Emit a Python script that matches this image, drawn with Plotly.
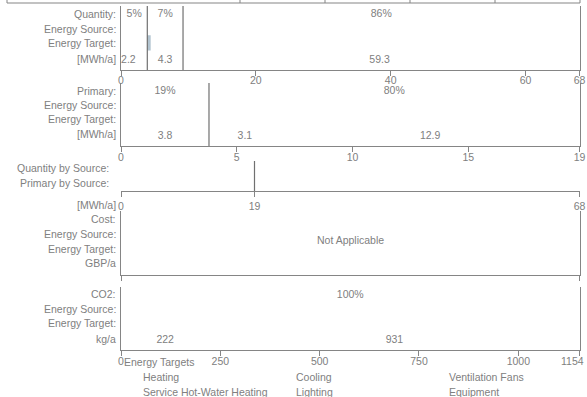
import math
import plotly.graph_objects as go

W, H = 587, 397

# ---- energy figures -------------------------------------------------------
# delivered quantity [MWh/a]
qty_source = [3.9, 5.3, 58.8]
qty_target = [2.2, 2.2, 4.3, 59.3]
qty_target_shown = [True, False, True, True]
# primary energy [MWh/a]
prim_source = [3.8, 16.0]
prim_target = [3.8, 3.1, 12.9]
# CO2 [kg/a]
co2_source = [1154.0]
co2_target = [222.4, 931.6]

qty_ticks = [0, 20, 40, 60]
prim_ticks = [0, 5, 10, 15]
co2_ticks = [0, 250, 500, 750, 1000]

target_categories = ["Heating", "Service Hot-Water Heating", "Cooling",
                     "Lighting", "Ventilation Fans", "Equipment"]

panel_labels = [
    ["Quantity:", "Energy Source:", "Energy Target:", "[MWh/a]"],
    ["Primary:", "Energy Source:", "Energy Target:", "[MWh/a]"],
    ["Quantity by Source:", "Primary by Source:"],
    ["Cost:", "Energy Source:", "Energy Target:", "GBP/a"],
    ["CO2:", "Energy Source:", "Energy Target:", "kg/a"],
]

# ---- styling ---------------------------------------------------------------
TEXT = "#808080"
LINE = "#858585"
DIV = "#707070"
SLIVER = "#b2c4d0"
FONT = "Arial, Liberation Sans, sans-serif"
FS = 10.5


def fl(v, nd=0):
    f = 10 ** nd
    v = math.floor(v * f + 1e-6) / f
    return f"{v:.{nd}f}"


def cum(vals):
    out, s = [], 0.0
    for v in vals:
        s += v
        out.append(s)
    return out


def centers(vals):
    e = [0.0] + cum(vals)
    return [(e[i] + e[i + 1]) / 2 for i in range(len(vals))]


def py(p):
    return 1 - p / H


X_DOM = [121 / W, 579.5 / W]
# vertical pixel extents (top, bottom) of the five strips
bands = [(6, 70), (83, 146), (161, 191), (211, 275), (287, 350)]
label_standoff = [-5, -4, 0, 0, -4]

fig = go.Figure()


def ax(k):
    return ("x" if k == 1 else f"x{k}"), ("y" if k == 1 else f"y{k}")


def add_dividers(k, edges, y0=0, y1=4):
    xa, ya = ax(k)
    xs, ys = [], []
    for e in edges:
        xs += [e, e, None]
        ys += [y0, y1, None]
    fig.add_trace(go.Scatter(x=xs, y=ys, mode="lines", xaxis=xa, yaxis=ya,
                             line=dict(color=DIV, width=1.2),
                             hoverinfo="skip", showlegend=False))


def add_text(k, xs, y, texts):
    xa, ya = ax(k)
    fig.add_trace(go.Scatter(x=xs, y=[y] * len(xs), text=texts, mode="text",
                             xaxis=xa, yaxis=ya, cliponaxis=False,
                             textposition="middle center",
                             textfont=dict(family=FONT, size=FS, color=TEXT),
                             hoverinfo="skip", showlegend=False))


PCT_Y, VAL_Y = 3.45, 0.6

# Quantity strip
qty_total = sum(qty_target)
add_dividers(1, cum(qty_source)[:-1])
add_text(1, centers(qty_source), PCT_Y,
         [fl(100 * v / qty_total) + "%" for v in qty_source])
qc = centers(qty_target)
add_text(1, [c for c, s in zip(qc, qty_target_shown) if s], VAL_Y,
         [fl(v, 1) for v, s in zip(qty_target, qty_target_shown) if s])
# visible part of the second target segment beside the first source segment
sl_base = cum(qty_source)[0]
sl_end = cum(qty_target)[1]
fig.add_trace(go.Bar(orientation="h", base=[sl_base], x=[sl_end - sl_base],
                     y=[1.7], width=0.95, marker=dict(color=SLIVER, line=dict(width=0)),
                     xaxis="x", yaxis="y", hoverinfo="skip", showlegend=False))

# Primary strip
prim_total = sum(prim_target)
add_dividers(2, cum(prim_source)[:-1])
add_text(2, centers(prim_source), PCT_Y,
         [fl(100 * v / prim_total) + "%" for v in prim_source])
add_text(2, centers(prim_target), VAL_Y, [fl(v, 1) for v in prim_target])

# Quantity vs primary on a common scale
add_dividers(3, [prim_total], 0, 1)

# Cost strip has no data; keep its axes alive with an empty trace
fig.add_trace(go.Scatter(x=[], y=[], xaxis="x4", yaxis="y4", showlegend=False))

# CO2 strip
co2_total = sum(co2_target)
add_text(5, centers(co2_source), PCT_Y,
         [fl(100 * v / co2_total) + "%" for v in co2_source])
add_text(5, centers(co2_target), VAL_Y, [fl(v) for v in co2_target])

# ---- axes ------------------------------------------------------------------
xcfg = [
    dict(range=[0, qty_total], tickvals=qty_ticks + [qty_total],
         ticktext=[str(t) for t in qty_ticks] + [fl(qty_total)]),
    dict(range=[0, prim_total], tickvals=prim_ticks + [prim_total],
         ticktext=[str(t) for t in prim_ticks] + [fl(prim_total)]),
    dict(range=[0, qty_total], tickvals=[0, prim_total, qty_total],
         ticktext=["0", fl(prim_total), fl(qty_total)]),
    dict(range=[0, 1], tickvals=[0, 1], ticktext=["", ""]),
    # the end value is written separately so it stays inside the page
    dict(range=[0, co2_total], tickvals=co2_ticks + [co2_total],
         ticktext=[str(t) for t in co2_ticks] + [""]),
]

layout = dict(width=W, height=H, margin=dict(l=0, r=0, t=0, b=0),
              template="none", paper_bgcolor="white", plot_bgcolor="white",
              font=dict(family=FONT, size=FS, color=TEXT),
              barmode="overlay", showlegend=False)

for i, (top, bot) in enumerate(bands):
    k = i + 1
    xa, ya = ax(k)
    xname = "xaxis" if k == 1 else f"xaxis{k}"
    yname = "yaxis" if k == 1 else f"yaxis{k}"
    x = dict(domain=X_DOM, anchor=ya, showline=True, linecolor=LINE, linewidth=1,
             ticks="outside", ticklen=5, tickcolor=LINE, tickwidth=1,
             showgrid=False, zeroline=False, fixedrange=True,
             tickmode="array", ticklabeloverflow="allow",
             ticklabelstandoff=label_standoff[i],
             tickfont=dict(family=FONT, size=FS, color=TEXT))
    x.update(xcfg[i])
    y = dict(domain=[py(bot), py(top)], anchor=xa, range=[0, 1 if k == 3 else 4],
             showline=(k != 3), mirror=True, linecolor=LINE, linewidth=1,
             showticklabels=False, ticks="", showgrid=False, zeroline=False,
             fixedrange=True)
    layout[xname] = x
    layout[yname] = y

fig.update_layout(**layout)

# ---- text: strip captions, not-applicable note, target key ---------------------
ann = []


def note(text, xp, yp, anchor="right"):
    ann.append(dict(text=text, x=xp / W, y=py(yp), xref="paper", yref="paper",
                    xanchor=anchor, yanchor="middle", showarrow=False,
                    font=dict(family=FONT, size=FS, color=TEXT)))


label_rows = [
    ([14, 29, 43.5, 58.5], 117.5),
    ([90.5, 104.5, 119, 134], 117.5),
    ([168, 183], 110.5),
    ([219, 234, 249, 263], 117.5),
    ([294, 308.5, 323, 339], 117.5),
]
for labels, (ys, xr) in zip(panel_labels, label_rows):
    for t, yy in zip(labels, ys):
        note(t, xr, yy)
note("[MWh/a]", 117.5, 205)

note("Not Applicable", 350, 240, "center")

# CO2 axis end value
note(fl(co2_total), 586, 361, "right")

note("Energy Targets", 122, 361.5, "left")
for i, cat in enumerate(target_categories):
    note(cat, 141 + 153 * (i // 2), 377 + 15 * (i % 2), "left")

# remains of the table frame along the top edge
shapes = [dict(type="line", xref="paper", yref="paper", x0=7 / W, x1=580 / W,
               y0=py(3), y1=py(3), line=dict(color=LINE, width=1))]
for xv in [7, 240, 325, 410, 495, 580]:
    shapes.append(dict(type="line", xref="paper", yref="paper", x0=xv / W, x1=xv / W,
                       y0=py(3), y1=1.01, line=dict(color=LINE, width=1)))

fig.update_layout(annotations=ann, shapes=shapes)

fig.write_html("out.html")
